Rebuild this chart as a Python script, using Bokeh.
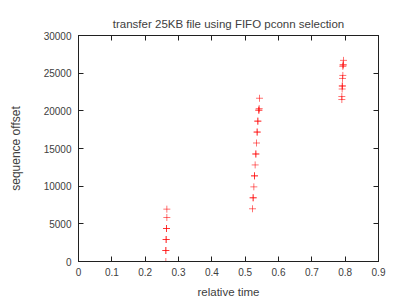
from bokeh.plotting import figure
from bokeh.models import LinearAxis, FixedTicker, Title, Range1d
from bokeh.embed import file_html
from bokeh.resources import INLINE

title_text = "transfer 25KB file using FIFO pconn selection"
x_label = "relative time"
y_label = "sequence offset"

x_ticks = [0, 0.1, 0.2, 0.3, 0.4, 0.5, 0.6, 0.7, 0.8, 0.9]
x_tick_labels = ["0", "0.1", "0.2", "0.3", "0.4", "0.5", "0.6", "0.7", "0.8", "0.9"]
y_ticks = [0, 5000, 10000, 15000, 20000, 25000, 30000]
y_tick_labels = ["0", "5000", "10000", "15000", "20000", "25000", "30000"]

# packet send times and sequence offsets (duplicates = overlapping marks)
times = [0.0,
         0.262, 0.262, 0.262, 0.263, 0.263, 0.264, 0.264, 0.265, 0.265,
         0.522, 0.524, 0.524, 0.526, 0.528, 0.528, 0.530, 0.532, 0.532, 0.534,
         0.536, 0.536, 0.538, 0.538, 0.540, 0.542, 0.542, 0.543,
         0.790, 0.790, 0.791, 0.791, 0.792, 0.792, 0.793, 0.793, 0.794, 0.794, 0.795]
offsets = [0,
           0, 1460, 1460, 2920, 2920, 4380, 4380, 5840, 6950,
           7000, 8460, 8460, 9910, 11370, 11370, 12820, 14270, 14270, 15730,
           17180, 17180, 18630, 18630, 20090, 20090, 20300, 21670,
           21500, 21900, 22900, 23300, 23300, 24300, 24700, 25900, 26100, 26100, 26700]

TEXT = "#404040"
FONT = "Liberation Sans"

p = figure(width=400, height=300, output_backend="svg", toolbar_location=None,
           x_range=Range1d(0, 0.9), y_range=Range1d(0, 30000),
           min_border_left=78, min_border_right=22, min_border_top=35, min_border_bottom=38,
           background_fill_color="white", border_fill_color="white")
p.xgrid.visible = False
p.ygrid.visible = False
p.outline_line_color = "#202020"
p.outline_line_width = 1

def style_axis(ax, show_labels):
    ax.major_tick_in = 5
    ax.major_tick_out = 0
    ax.minor_tick_in = 0
    ax.minor_tick_out = 0
    ax.axis_line_color = "#202020"
    ax.major_tick_line_color = "#202020"
    ax.major_label_text_font = FONT
    ax.major_label_text_font_size = "10px"
    ax.major_label_text_color = TEXT
    ax.axis_label_text_font = FONT
    ax.axis_label_text_font_size = "11.5px"
    ax.axis_label_text_font_style = "normal"
    ax.axis_label_text_color = TEXT
    if not show_labels:
        ax.major_label_text_font_size = "0px"
        ax.major_label_standoff = 0

xa = p.xaxis[0]
xa.ticker = FixedTicker(ticks=x_ticks)
xa.major_label_overrides = {t: l for t, l in zip(x_ticks, x_tick_labels)}
xa.axis_label = x_label
xa.major_label_standoff = 6
xa.axis_label_standoff = 7
style_axis(xa, True)

ya = p.yaxis[0]
ya.ticker = FixedTicker(ticks=y_ticks)
ya.major_label_overrides = {t: l for t, l in zip(y_ticks, y_tick_labels)}
ya.axis_label = y_label
ya.major_label_standoff = 7
ya.axis_label_standoff = 18
style_axis(ya, True)
ya.axis_label_text_font_size = "12px"

top = LinearAxis(ticker=FixedTicker(ticks=x_ticks))
style_axis(top, False)
top.major_label_overrides = {t: "" for t in x_ticks}
p.add_layout(top, "above")
right = LinearAxis(ticker=FixedTicker(ticks=y_ticks))
style_axis(right, False)
right.major_label_overrides = {t: "" for t in y_ticks}
p.add_layout(right, "right")

p.add_layout(Title(text=title_text, align="center", text_font=FONT, text_font_size="11.5px",
                   text_font_style="normal", text_color=TEXT, standoff=12), "above")

p.scatter(times, offsets, marker="cross", size=7, line_color="red", line_width=1, line_alpha=0.55)

open("out.html", "w").write(file_html(p, INLINE))
